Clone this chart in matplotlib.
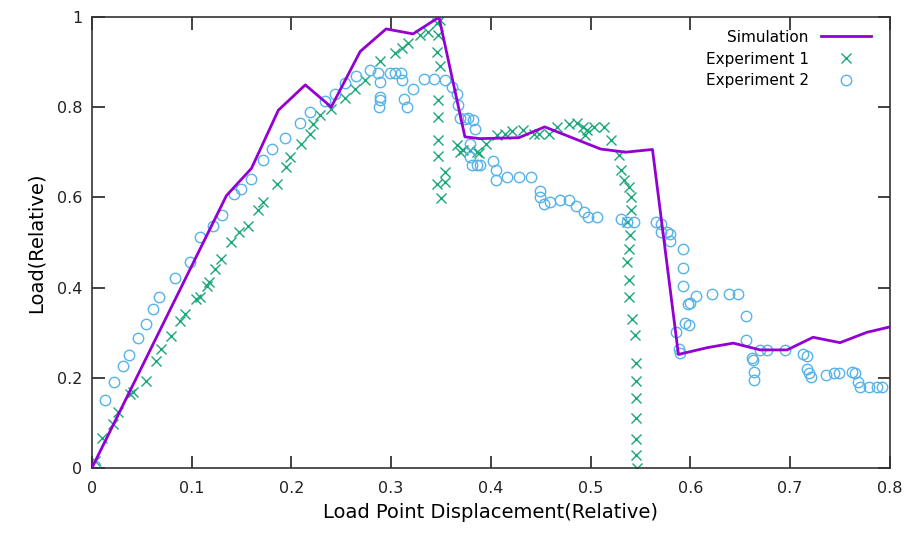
import numpy as np
from matplotlib import pyplot as plt
from matplotlib.ticker import FuncFormatter

# Simulation curve
sim_x = [0.0, 0.135, 0.16, 0.187, 0.214, 0.240, 0.269, 0.295, 0.322, 0.348,
         0.374, 0.389, 0.428, 0.454, 0.51, 0.535, 0.562, 0.588, 0.617, 0.643,
         0.67, 0.697, 0.723, 0.75, 0.777, 0.8]
sim_y = [0.0, 0.604, 0.664, 0.793, 0.849, 0.800, 0.923, 0.973, 0.962, 0.999,
         0.734, 0.730, 0.732, 0.756, 0.707, 0.700, 0.706, 0.252, 0.267, 0.277,
         0.262, 0.262, 0.290, 0.278, 0.301, 0.313]

# Experiment 1
exp1_x = [0.003, 0.010, 0.021, 0.026, 0.038, 0.041, 0.054, 0.064, 0.069, 0.079,
          0.088, 0.093, 0.104, 0.108, 0.115, 0.117, 0.123, 0.129, 0.140, 0.148,
          0.157, 0.167, 0.172, 0.186, 0.195, 0.199, 0.210, 0.219, 0.222, 0.229,
          0.240, 0.254, 0.264, 0.274, 0.289, 0.304, 0.311, 0.317, 0.329, 0.337,
          0.346, 0.349, 0.347, 0.346, 0.349, 0.347, 0.347, 0.347, 0.347, 0.354,
          0.346, 0.354, 0.350, 0.366, 0.369, 0.372, 0.379, 0.386, 0.388, 0.395,
          0.406, 0.414, 0.421, 0.432, 0.443, 0.448, 0.458, 0.466, 0.478, 0.486,
          0.492, 0.496, 0.494, 0.503, 0.513, 0.520, 0.528, 0.530, 0.533, 0.538,
          0.540, 0.540, 0.536, 0.539, 0.538, 0.536, 0.538, 0.538, 0.541, 0.544,
          0.545, 0.545, 0.545, 0.545, 0.545, 0.545, 0.546]
exp1_y = [0.016, 0.067, 0.098, 0.125, 0.164, 0.168, 0.193, 0.238, 0.264, 0.293,
          0.327, 0.342, 0.375, 0.379, 0.404, 0.412, 0.441, 0.463, 0.501, 0.523,
          0.536, 0.571, 0.590, 0.629, 0.667, 0.690, 0.719, 0.741, 0.763, 0.782,
          0.796, 0.819, 0.841, 0.860, 0.901, 0.919, 0.930, 0.941, 0.960, 0.967,
          0.986, 0.993, 0.960, 0.921, 0.890, 0.816, 0.777, 0.727, 0.691, 0.656,
          0.630, 0.633, 0.599, 0.716, 0.700, 0.704, 0.704, 0.700, 0.699, 0.719,
          0.738, 0.741, 0.747, 0.749, 0.740, 0.740, 0.741, 0.756, 0.763, 0.765,
          0.756, 0.749, 0.738, 0.756, 0.756, 0.727, 0.693, 0.660, 0.638, 0.623,
          0.601, 0.571, 0.545, 0.516, 0.486, 0.456, 0.416, 0.379, 0.330, 0.296,
          0.234, 0.193, 0.156, 0.112, 0.064, 0.029, 0.001]

# Experiment 2
exp2_x = [0.003, 0.013, 0.022, 0.031, 0.037, 0.046, 0.054, 0.061, 0.067, 0.083,
          0.098, 0.108, 0.121, 0.131, 0.143, 0.150, 0.160, 0.172, 0.181, 0.194,
          0.209, 0.219, 0.234, 0.244, 0.254, 0.265, 0.279, 0.287, 0.289, 0.289,
          0.289, 0.288, 0.299, 0.304, 0.310, 0.311, 0.313, 0.316, 0.322, 0.333,
          0.343, 0.354, 0.361, 0.366, 0.367, 0.369, 0.374, 0.377, 0.382, 0.384,
          0.379, 0.379, 0.381, 0.386, 0.389, 0.402, 0.405, 0.405, 0.416, 0.428,
          0.440, 0.449, 0.449, 0.453, 0.459, 0.469, 0.478, 0.485, 0.493, 0.497,
          0.506, 0.530, 0.536, 0.543, 0.566, 0.571, 0.571, 0.577, 0.580, 0.580,
          0.593, 0.593, 0.593, 0.598, 0.600, 0.606, 0.622, 0.639, 0.648, 0.656,
          0.595, 0.599, 0.586, 0.589, 0.590, 0.656, 0.662, 0.663, 0.670, 0.677,
          0.695, 0.664, 0.664, 0.713, 0.717, 0.717, 0.719, 0.721, 0.736, 0.744,
          0.749, 0.762, 0.765, 0.768, 0.770, 0.779, 0.787, 0.792]
exp2_y = [0.004, 0.150, 0.190, 0.227, 0.251, 0.288, 0.319, 0.352, 0.380, 0.422,
          0.457, 0.511, 0.536, 0.560, 0.607, 0.619, 0.641, 0.682, 0.707, 0.732,
          0.764, 0.788, 0.814, 0.828, 0.853, 0.869, 0.881, 0.876, 0.855, 0.823,
          0.816, 0.800, 0.876, 0.876, 0.876, 0.859, 0.818, 0.801, 0.841, 0.861,
          0.861, 0.859, 0.844, 0.829, 0.804, 0.775, 0.773, 0.775, 0.771, 0.752,
          0.719, 0.690, 0.671, 0.671, 0.671, 0.680, 0.660, 0.638, 0.645, 0.645,
          0.645, 0.615, 0.601, 0.586, 0.590, 0.595, 0.595, 0.580, 0.568, 0.557,
          0.557, 0.553, 0.546, 0.546, 0.546, 0.541, 0.524, 0.524, 0.519, 0.504,
          0.485, 0.444, 0.404, 0.364, 0.367, 0.382, 0.386, 0.386, 0.386, 0.338,
          0.321, 0.318, 0.301, 0.264, 0.256, 0.284, 0.245, 0.239, 0.262, 0.262,
          0.262, 0.212, 0.196, 0.252, 0.248, 0.219, 0.210, 0.202, 0.207, 0.210,
          0.210, 0.212, 0.210, 0.190, 0.179, 0.179, 0.179, 0.179]

plt.rcParams['font.family'] = ['DejaVu Sans']

fig = plt.figure(figsize=(9.09, 5.4), dpi=100)
ax = fig.add_axes([0.101, 0.133, 0.878, 0.836])

ax.plot(sim_x, sim_y, color='#9400D3', lw=2, label='Simulation', zorder=3)
ax.plot(exp1_x, exp1_y, 'x', color='#1aa779', ms=6.5, mew=1.0,
        linestyle='none', label='Experiment 1')
ax.plot(exp2_x, exp2_y, 'o', mfc='none', mec='#56B4E9', ms=7.5, mew=1.0,
        linestyle='none', label='Experiment 2')

ax.set_xlim(0, 0.8)
ax.set_ylim(0, 1)
ax.set_xticks(np.arange(0, 0.81, 0.1))
ax.set_yticks(np.arange(0, 1.01, 0.2))
fmt = FuncFormatter(lambda v, p: '%g' % round(v, 2))
ax.xaxis.set_major_formatter(fmt)
ax.yaxis.set_major_formatter(fmt)
ax.tick_params(direction='in', length=9, width=1.2, top=True, right=True,
               labelsize=11.5, colors='#222222')
ax.tick_params(axis='x', pad=9)
ax.tick_params(axis='y', pad=7)
for s in ax.spines.values():
    s.set_linewidth(1.2)
    s.set_color('#333333')

ax.set_xlabel('Load Point Displacement(Relative)', fontsize=14, labelpad=5)
ax.set_ylabel('Load(Relative)', fontsize=14, labelpad=8)

ax.legend(loc='upper right', frameon=False, markerfirst=False, fontsize=11,
          handlelength=3.3, handletextpad=0.8, labelspacing=0.45,
          borderaxespad=0.3, bbox_to_anchor=(0.99, 0.995))

plt.savefig('out.png', dpi=100)
plt.close(fig)
